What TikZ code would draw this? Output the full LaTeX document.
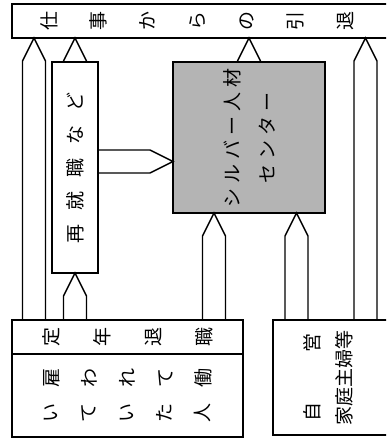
\documentclass[tikz,border=0pt]{standalone}
\usepackage{fontspec}
\setmainfont{Noto Sans CJK JP}
\usepackage{tikz}
\usetikzlibrary{positioning,calc}
\definecolor{centergray}{HTML}{B4B4B4}
\tikzset{
  box/.style={draw=black, line width=1.4pt, fill=white, inner sep=0pt, outer sep=0pt, anchor=north west},
  vlabel/.style={rotate=90, align=center, inner sep=0pt, font=\fontsize{19}{19}\selectfont},
  fat/.style={line width=1.4pt, to path={
      ($(\tikztostart)!11.5pt!90:(\tikztotarget)$)
      -- ($(\tikztotarget)!25.7pt!-26.57:(\tikztostart)$)
      -- (\tikztotarget)
      -- ($(\tikztotarget)!25.7pt!26.57:(\tikztostart)$)
      -- ($(\tikztostart)!11.5pt!-90:(\tikztotarget)$)}}
}

\begin{document}
\begin{tikzpicture}[x=1pt, y=-1pt]
  \useasboundingbox (0,0) rectangle (386,441);
  \clip (0,0) rectangle (386,441);

  \node[box, minimum width=384pt, minimum height=34pt] (shigoto) at (12,4) {};
  \node[box, minimum width=46pt, minimum height=211pt] (saishu) at (52,62) {};
  \node[box, fill=centergray, minimum width=152pt, minimum height=151pt] (silver) at (173,62) {};
  \node[box, minimum width=231pt, minimum height=34pt] (teinen) at (12,320) {};
  \node[box, minimum width=231pt, minimum height=83pt, below=0pt of teinen] (koyo) {};
  \node[box, minimum width=120pt, minimum height=115pt] (jiei) at (273,320) {};

  \node[vlabel, font=\fontsize{19}{49.3}\selectfont] (shigototxt) at (197,21) {仕\\事\\か\\ら\\の\\引\\退};
  \node[vlabel] (saishutxt) at (saishu) {再\hspace{14pt}就\hspace{14pt}職\hspace{14pt}な\hspace{14pt}ど};
  \node[vlabel, font=\fontsize{19}{35}\selectfont] (silvertxt) at (silver)
    {シ\hspace{5pt}ル\hspace{5pt}バ\hspace{5pt}ー\hspace{5pt}人\hspace{5pt}材\\セ\hspace{5pt}ン\hspace{5pt}タ\hspace{5pt}ー};
  \node[vlabel, font=\fontsize{19}{51}\selectfont] (teinentxt) at (teinen) {定\\年\\退\\職};
  \node[vlabel, font=\fontsize{19}{38}\selectfont] (koyotxta) at ([yshift=17.5pt]koyo.center) {雇\\わ\\れ\\て\\働};
  \node[vlabel, font=\fontsize{19}{38}\selectfont] (koyotxtb) at ([yshift=-17.5pt]koyo.center) {い\\て\\い\\た\\人};
  \node[vlabel] (jieitxt) at (312,377.5) {自\hspace{50pt}営};
  \node[vlabel] (shufutxt) at (344,378) {家庭主婦等};

  \coordinate (outA) at ([xshift=22pt]teinen.north west);
  \coordinate (outB) at ([xshift=-29pt]teinen.north east);
  \coordinate (outC) at ([xshift=23.5pt]jiei.north west);
  \coordinate (outD) at ([xshift=92.5pt]jiei.north west);
  \coordinate (outE) at ([yshift=6pt]saishu.east);

  \draw[fat] (outA) to (outA |- shigoto.south);
  \draw[fat] (teinen.north -| saishu.south) to (saishu.south);
  \draw[fat] (saishu.north) to (saishu.north |- shigoto.south);
  \draw[fat] (outE) to (outE -| silver.west);
  \draw[fat] (silver.north) to (silver.north |- shigoto.south);
  \draw[fat] (outB) to (outB |- silver.south);
  \draw[fat] (outC) to (outC |- silver.south);
  \draw[fat] (outD) to (outD |- shigoto.south);
\end{tikzpicture}
\end{document}
